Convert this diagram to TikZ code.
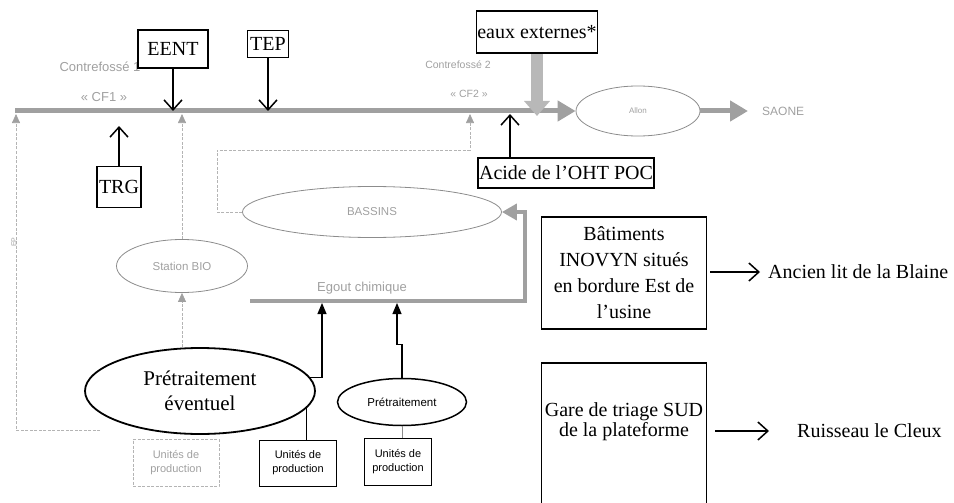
\documentclass[tikz,border=0pt]{standalone}
\usepackage{fontspec}
\setmainfont{Liberation Serif}
\setsansfont{Liberation Sans}
\usetikzlibrary{arrows.meta,shapes.geometric}
\definecolor{lineg}{HTML}{A0A0A0}
\definecolor{txtg}{HTML}{A0A0A0}
\definecolor{ellg}{HTML}{8C8C8C}
\definecolor{dashg}{HTML}{B4B4B4}
\begin{document}
\begin{tikzpicture}[x=1pt,y=-1pt,
  bigtxt/.style={font=\fontsize{20}{25}\selectfont},
  kbox/.style={draw=black, line width=1.6pt, fill=white, inner sep=1pt, align=center, bigtxt},
  glab/.style={text=txtg, font=\sffamily\fontsize{#1}{#1}\selectfont, inner sep=0pt},
  gell/.style={ellipse, draw=ellg, line width=0.8pt, inner sep=0pt, text=txtg},
  ubox/.style={draw=black, line width=1pt, align=center, font=\sffamily\fontsize{11}{14}\selectfont, inner sep=0pt},
  karrow/.style={draw=black, line width=1.5pt, -{Straight Barb[length=10pt,width=18pt,line width=1.5pt]}},
  mainflow/.style={draw=lineg, line width=5pt, -{Triangle[length=18pt,width=20pt]}},
  dline/.style={draw=dashg, line width=0.7pt, dash pattern=on 3pt off 1.5pt},
  dflow/.style={dline, -{Triangle[length=9pt,width=8pt,color=lineg]}},
  blkin/.style={draw=black, line width=1.2pt, -{Triangle[length=11pt,width=9pt]}}
]
\useasboundingbox (0,0) rectangle (954,503);

% reference coordinates
\coordinate (mainY) at (0,111);
\coordinate (lineBot) at (0,114);
\coordinate (trgtip) at (0,126);
\coordinate (m0) at (15,111);
\coordinate (acx) at (510,150);

% gray labels of the ditch
\node[glab=13] (cf1) at (100,67) {Contrefossé 1};
\node[glab=13] (cf1b) at (104,97) {« CF1 »};
\node[glab=10.5] (cf2) at (458,65) {Contrefossé 2};
\node[glab=10.5] (cf2b) at (469,94) {« CF2 »};

% Allon and Saone
\node[gell, minimum width=124pt, minimum height=50pt, font=\sffamily\fontsize{8}{9}\selectfont] (allon) at (638,111) {Allon};
\node[glab=12, anchor=west] (saone) at (762,111) {SAONE};

% main ditch
\draw[mainflow] (m0) -- (allon.west);
\draw[mainflow] (allon.east) -- ([xshift=-14pt]saone.west);

% gray ellipses
\node[gell, minimum width=131pt, minimum height=53pt, font=\sffamily\fontsize{11.5}{13}\selectfont] (sbio) at (182,266) {Station BIO};
\node[gell, minimum width=259pt, minimum height=51pt, font=\sffamily\fontsize{11.5}{13}\selectfont] (bas) at (372,212) {BASSINS};

% black ellipses
\node[ellipse, draw=black, line width=1.8pt, minimum width=230pt, minimum height=86pt, inner sep=0pt, align=center, font=\fontsize{21}{25}\selectfont] (pre) at (200,391) {Prétraitement\\éventuel};
\node[ellipse, draw=black, line width=1.5pt, minimum width=129pt, minimum height=47pt, inner sep=0pt, font=\sffamily\fontsize{11.5}{13}\selectfont] (pret) at (402,402) {Prétraitement};

% production units
\node[ubox, draw=dashg, dash pattern=on 3pt off 1.5pt, text=txtg, minimum width=86pt, minimum height=47pt] (u0) at (176,463) {Unités de\\production};
\node[ubox, minimum width=77pt, minimum height=46pt] (u1) at (298,463) {Unités de\\production};
\node[ubox, minimum width=67pt, minimum height=47pt] (u2) at (398,462) {Unités de\\production};

% dashed flows
\coordinate (ep0) at (100,430);
\draw[dflow] (ep0) -- (16,430) -- (16,114);
\node[glab=7, rotate=90] (ep) at (14,242) {EP};
\draw[dflow] (sbio.north) -- (sbio.north |- lineBot);
\draw[dflow] (sbio.south |- pre.north) -- (sbio.south);
\draw[dflow] (bas.west) -- (217,212) -- (217,150) -- (470,150) -- (470,114);

% chemical sewer
\coordinate (eg0) at (250,301);
\draw[draw=lineg, line width=4pt, line join=miter, -{Triangle[length=15pt,width=16pt]}] (eg0) -- (525,301) -- (525,212) -- (bas.east);
\node[glab=13] (egt) at (362,288) {Egout chimique};

% black inputs to the sewer
\draw[blkin] (pre.7) -| (322,303);
\draw[blkin] (pret.north) -- ++(0,-33) -- ++(-5,0) -- (397,303);
\draw[black, line width=1pt] (pre.-9) -- (pre.-9 |- u1.north);
\draw[ellg, line width=0.8pt] (pret.south) -- (pret.south |- u2.north);

% black boxes on the ditch
\node[kbox, minimum width=70pt, minimum height=38pt] (eent) at (173,49) {EENT};
\node[kbox, minimum width=41pt, minimum height=27pt] (tep) at (268,44) {TEP};
\node[kbox, minimum width=44pt, minimum height=41pt] (trg) at (119,187) {TRG};
\node[kbox, minimum width=119pt, minimum height=42pt] (eaux) at (537,32) {eaux externes*};
\node[kbox, minimum width=168pt, minimum height=30pt] (acide) at (566,173) {Acide de l’OHT POC};

\draw[karrow] (eent.south) -- (eent.south |- mainY);
\draw[karrow] (tep.south) -- (tep.south |- mainY);
\draw[karrow] (trg.north) -- (trg.north |- trgtip);
\draw[karrow] (acide.north -| acx) -- (acx |- lineBot);
\draw[draw=lineg!75, line width=12pt, -{Triangle[length=15pt,width=25pt]}] (eaux.south) -- ([yshift=-5pt]eaux.south |- mainY);

% right part
\node[kbox, minimum width=165pt, minimum height=112pt, font=\fontsize{20}{26}\selectfont] (bat) at (624,273) {Bâtiments\\INOVYN situés\\en bordure Est de\\l’usine};
\node[bigtxt, anchor=west, inner sep=0pt] (blaine) at (768,272) {Ancien lit de la Blaine};
\draw[karrow] ([xshift=3pt]bat.east |- blaine.west) -- ([xshift=-8pt]blaine.west);

\node[draw=black, line width=1.6pt, minimum width=165pt, minimum height=160pt, anchor=north] (gare) at (624,362) {};
\node[align=center, inner sep=0pt, font=\fontsize{20}{20}\selectfont] (garet) at (624,422) {Gare de triage SUD\\de la plateforme};
\node[bigtxt, anchor=west, inner sep=0pt] (ruis) at (797,431) {Ruisseau le Cleux};
\draw[karrow] ([xshift=8pt]gare.east |- ruis.west) -- ([xshift=-28pt]ruis.west);
\end{tikzpicture}
\end{document}
